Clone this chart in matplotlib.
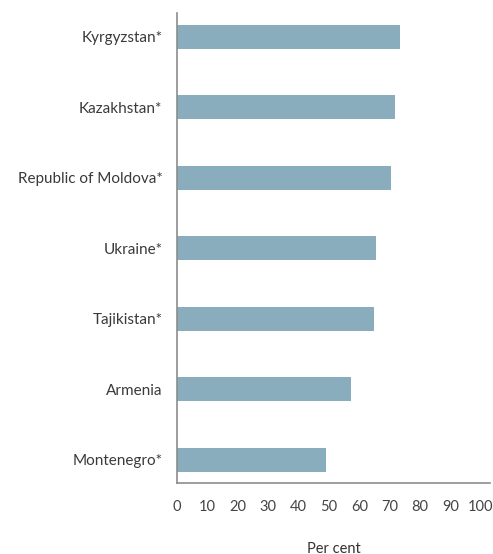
import matplotlib.pyplot as plt

countries = [
    "Kyrgyzstan*",
    "Kazakhstan*",
    "Republic of Moldova*",
    "Ukraine*",
    "Tajikistan*",
    "Armenia",
    "Montenegro*",
]
values = [73.4, 71.8, 70.3, 65.5, 64.8, 57.3, 49.0]
x_ticks = [0, 10, 20, 30, 40, 50, 60, 70, 80, 90, 100]

plt.rcParams["font.family"] = ["Lato", "DejaVu Sans"]

fig = plt.figure(figsize=(4.93, 5.54), dpi=100)
ax = fig.add_axes([0.359, 0.128, 0.635, 0.849])

# top country at the top
ypos = list(range(len(countries)))[::-1]
ax.barh(ypos, values, height=0.34, color="#8aadbd", edgecolor="none")

ax.set_yticks(ypos)
ax.set_yticklabels(countries, fontsize=11, color="#3a3a3a")
ax.set_xticks(x_ticks)
ax.set_xticklabels([str(t) for t in x_ticks], fontsize=10.5, color="#444444")
ax.set_xlim(0, 103)
ax.set_ylim(-0.33, 6.34)
ax.tick_params(axis="both", length=0)
ax.tick_params(axis="x", pad=12)
ax.tick_params(axis="y", pad=10.5)

for side in ("top", "right"):
    ax.spines[side].set_visible(False)
for side in ("left", "bottom"):
    ax.spines[side].set_color("#8c8c8c")
    ax.spines[side].set_linewidth(1.2)

ax.set_xlabel("Per cent", fontsize=10.5, color="#333333", labelpad=20)

fig.savefig("out.png", dpi=100)
plt.close(fig)
